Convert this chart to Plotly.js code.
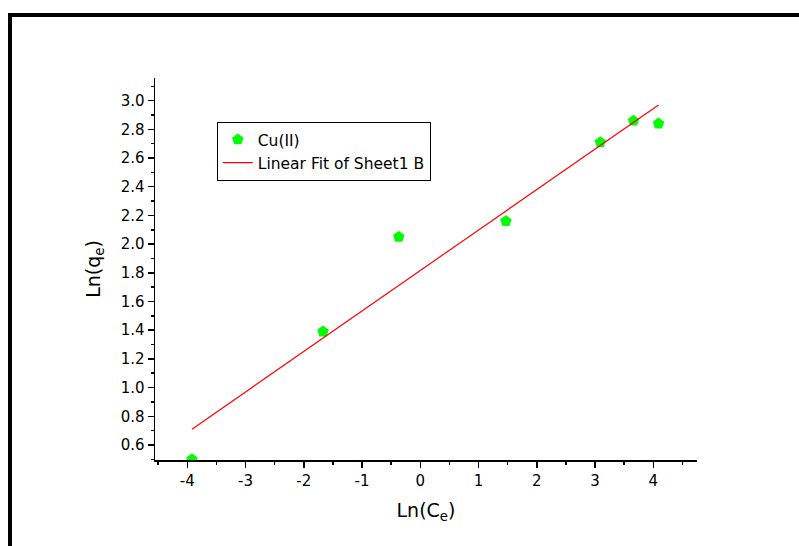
<!DOCTYPE html>
<html>
<head>
<meta charset="utf-8">
<script src="https://cdn.plot.ly/plotly-3.0.1.min.js"></script>
<style>
  html, body { margin: 0; padding: 0; background: #fff; }
  #wrap { position: relative; width: 799px; height: 546px; }
  #chart { width: 799px; height: 546px; }
  #frame { position: absolute; left: 8px; top: 13px; width: 791px; height: 533px;
           border-top: 4px solid #000; border-left: 4px solid #000; box-sizing: border-box;
           pointer-events: none; }
</style>
</head>
<body>
<div id="wrap"><div id="chart"></div><div id="frame"></div></div>
<script>
// Data
const lnCe = [-3.92, -1.67, -0.37, 1.47, 3.09, 3.66, 4.09];
const lnQe = [0.50, 1.39, 2.05, 2.16, 2.71, 2.86, 2.84];
// Linear fit line endpoints (as drawn in the reference)
const fitX = [-3.92, 4.09];
const fitY = [0.71, 2.97];
// Tick labels
const xTickVals = [-4, -3, -2, -1, 0, 1, 2, 3, 4];
const xTickText = ["-4", "-3", "-2", "-1", "0", "1", "2", "3", "4"];

const FONT = "DejaVu Sans, Arial, sans-serif";

const traces = [
  {
    x: lnCe, y: lnQe, type: "scatter", mode: "markers", name: "Cu(II)",
    marker: { symbol: "pentagon", size: 12, color: "#00ff00", line: { width: 0 } },
    cliponaxis: true
  },
  {
    x: fitX, y: fitY, type: "scatter", mode: "lines", name: "Linear Fit of Sheet1 B",
    line: { color: "#ff0000", width: 1.2 }
  }
];

const layout = {
  width: 799, height: 546,
  paper_bgcolor: "#ffffff", plot_bgcolor: "#ffffff",
  margin: { l: 155, r: 102, t: 78, b: 86 },
  font: { family: FONT, size: 15, color: "#000" },
  showlegend: true,
  legend: {
    x: 0.114, y: 0.885, xanchor: "left", yanchor: "top",
    bordercolor: "#000", borderwidth: 1, bgcolor: "rgba(255,255,255,0)",
    font: { family: FONT, size: 15.5, color: "#000" },
    tracegroupgap: 0
  },
  xaxis: {
    range: [-4.554, 4.75], showgrid: false, zeroline: false,
    showline: true, linecolor: "#000", linewidth: 1.5,
    ticks: "outside", ticklen: 6, tickwidth: 1.5, tickcolor: "#000",
    tickmode: "array", tickvals: xTickVals, ticktext: xTickText,
    tickfont: { family: FONT, size: 15 },
    minor: { tickmode: "linear", tick0: 0, dtick: 0.5, ticks: "outside", ticklen: 3, tickwidth: 1.5, tickcolor: "#000" },
    title: { text: "Ln(C<sub>e</sub>)", font: { family: FONT, size: 19 }, standoff: 15 }
  },
  yaxis: {
    range: [0.495, 3.158], showgrid: false, zeroline: false,
    showline: true, linecolor: "#000", linewidth: 1.5,
    ticks: "outside", ticklen: 6, tickwidth: 1.5, tickcolor: "#000",
    tick0: 0, dtick: 0.2, tickformat: ".1f",
    tickfont: { family: FONT, size: 15 },
    minor: { tickmode: "linear", tick0: 0, dtick: 0.1, ticks: "outside", ticklen: 3, tickwidth: 1.5, tickcolor: "#000" },
    title: { text: "Ln(q<sub>e</sub>)", font: { family: FONT, size: 19 }, standoff: 15 }
  }
};

Plotly.newPlot("chart", traces, layout, { staticPlot: true, displayModeBar: false });
</script>
</body>
</html>
